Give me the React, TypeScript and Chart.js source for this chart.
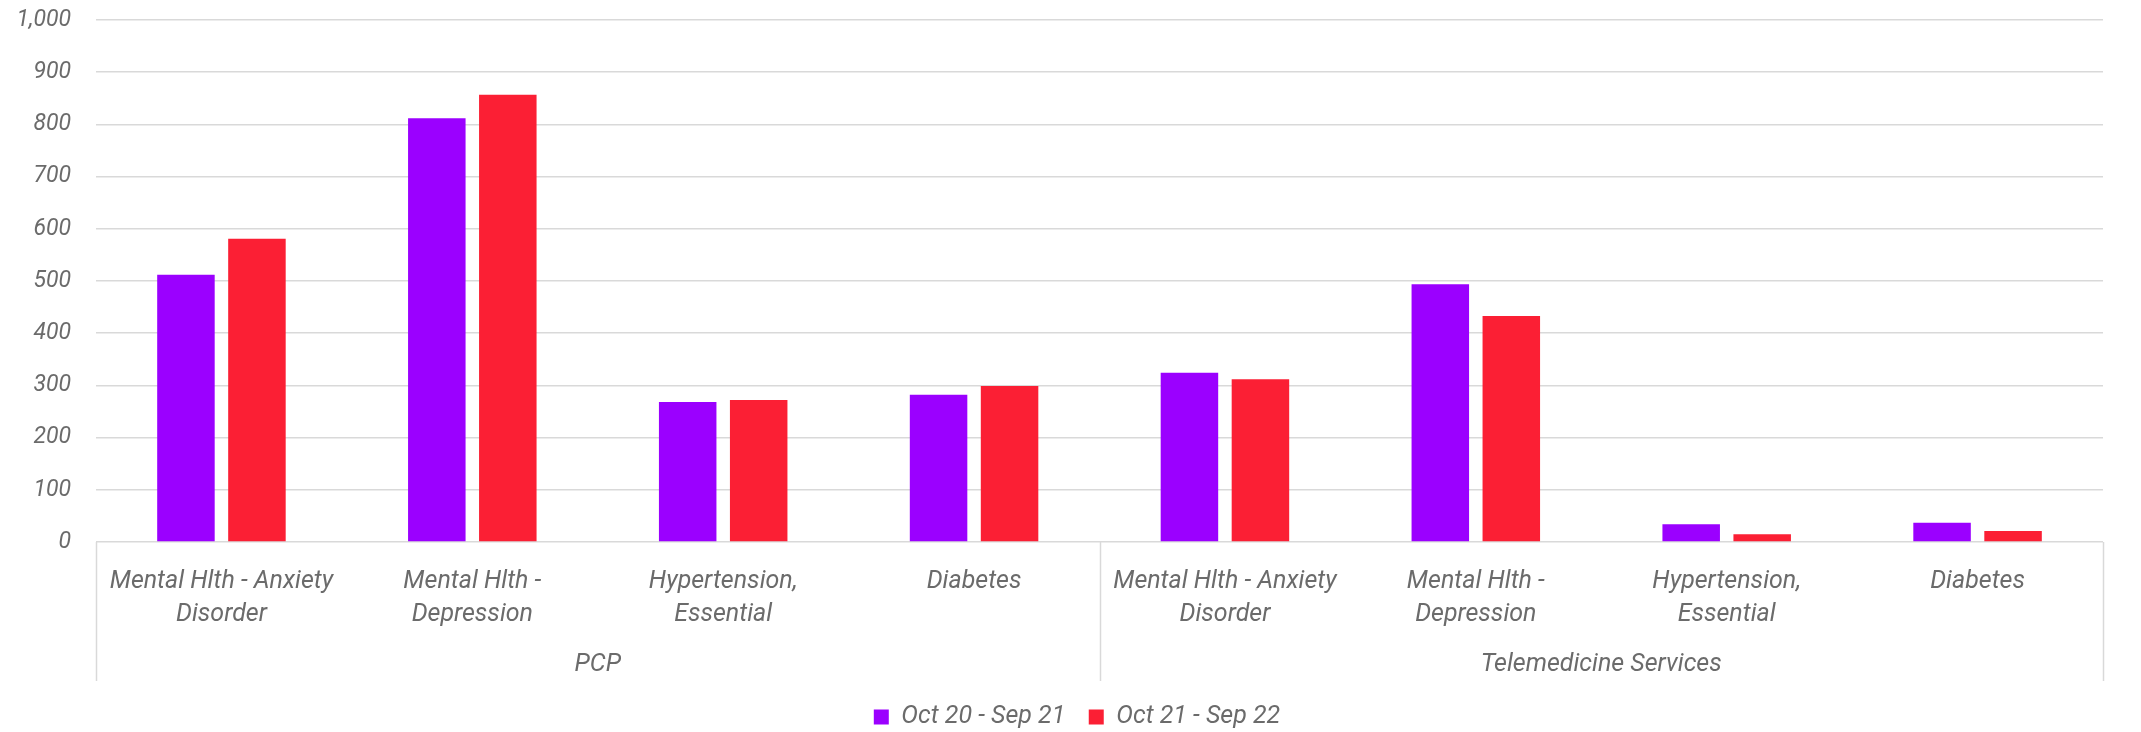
import React, { useEffect, useRef } from 'react';
import { Chart, registerables } from 'chart.js';

Chart.register(...registerables);

const groups = ['PCP', 'Telemedicine Services'];
const conditions: string[][] = [
  ['Mental Hlth - Anxiety', 'Disorder'],
  ['Mental Hlth -', 'Depression'],
  ['Hypertension,', 'Essential'],
  ['Diabetes'],
];
const categories: string[][] = [...conditions, ...conditions];
const seriesNames = ['Oct 20 - Sep 21', 'Oct 21 - Sep 22'];
const period1 = [512, 812, 268, 282, 324, 494, 34, 37];
const period2 = [581, 857, 272, 299, 312, 433, 15, 21];
const yMin = 0;
const yMax = 1000;
const yStep = 100;

const PURPLE = '#9b00ff';
const RED = '#fb1f34';
const TEXT = '#6b6b6b';
const GRID = '#d9d9d9';
const FONT = 'Roboto';
const LEGEND_SHIFT = 51;

const separatorPlugin = {
  id: 'groupSeparators',
  afterLayout(chart: any) {
    const lg = chart.legend;
    if (lg) lg.left += LEGEND_SHIFT;
  },
  afterDraw(chart: any) {
    const x = chart.scales.x;
    const x2 = chart.scales.x2;
    if (!x || !x2) return;
    const n = categories.length;
    const per = n / groups.length;
    const ctx = chart.ctx;
    ctx.save();
    ctx.strokeStyle = GRID;
    ctx.lineWidth = 1.5;
    for (let g = 0; g <= groups.length; g++) {
      const b = g * per;
      let px: number;
      if (b === 0) px = x.left;
      else if (b === n) px = x.right;
      else px = (x.getPixelForValue(b - 1) + x.getPixelForValue(b)) / 2;
      px = Math.round(px) + 0.5;
      ctx.beginPath();
      ctx.moveTo(px, chart.chartArea.bottom);
      ctx.lineTo(px, x2.bottom);
      ctx.stroke();
    }
    ctx.restore();
  },
};

export default function App() {
  const ref = useRef<HTMLCanvasElement | null>(null);

  useEffect(() => {
    document.body.style.margin = '0';
    const canvas = ref.current;
    if (!canvas) return;
    const chart = new Chart(canvas, {
      type: 'bar',
      data: {
        labels: categories as any,
        datasets: [
          {
            label: seriesNames[0],
            data: period1,
            backgroundColor: PURPLE,
            borderWidth: 0,
            categoryPercentage: 0.566,
            barPercentage: 0.81,
          },
          {
            label: seriesNames[1],
            data: period2,
            backgroundColor: RED,
            borderWidth: 0,
            categoryPercentage: 0.566,
            barPercentage: 0.81,
          },
        ],
      },
      options: {
        responsive: false,
        animation: false,
        maintainAspectRatio: false,
        layout: { padding: { top: 20, right: 38, bottom: -7.5, left: 0 } },
        plugins: {
          tooltip: { enabled: false },
          legend: {
            position: 'bottom',
            labels: {
              boxWidth: 15,
              boxHeight: 15,
              padding: 23.5,
              color: TEXT,
              font: { family: FONT, size: 25, style: 'italic' },
            },
          },
        },
        scales: {
          x: {
            type: 'category',
            weight: 0,
            grid: { display: false, drawTicks: false },
            border: { display: false },
            ticks: {
              autoSkip: false,
              maxRotation: 0,
              minRotation: 0,
              padding: 23,
              color: TEXT,
              font: { family: FONT, size: 25, style: 'italic', lineHeight: 1.32 },
            },
            afterFit: (scale: any) => {
              scale.height = scale.height - 23;
            },
          },
          x2: {
            type: 'category',
            position: 'bottom',
            weight: 1,
            labels: groups,
            offset: true,
            grid: { display: false, drawTicks: false },
            border: { display: false },
            ticks: {
              autoSkip: false,
              maxRotation: 0,
              padding: 17,
              color: TEXT,
              font: { family: FONT, size: 25, style: 'italic', lineHeight: 1.32 },
            },
            afterFit: (scale: any) => {
              scale.height = scale.height - 17;
            },
          },
          y: {
            min: yMin,
            max: yMax,
            grid: { color: GRID, lineWidth: 1.5, drawTicks: false },
            border: { display: false },
            ticks: {
              stepSize: yStep,
              padding: 25,
              color: TEXT,
              font: { family: FONT, size: 23, style: 'italic' },
            },
            afterFit: (scale: any) => {
              scale.width = 96;
              scale.paddingTop = 12;
              scale.paddingBottom = 12;
            },
          },
        },
      } as any,
      plugins: [separatorPlugin],
    });
    return () => chart.destroy();
  }, []);

  return (
    <div style={{ width: 2141, height: 732 }}>
      <canvas ref={ref} width={2141} height={732} style={{ display: 'block', width: 2141, height: 732 }} />
    </div>
  );
}
